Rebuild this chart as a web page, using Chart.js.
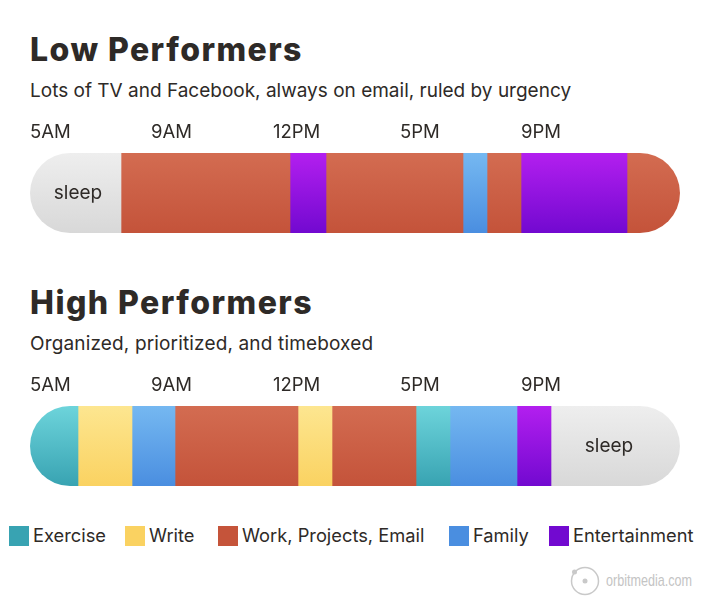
<!DOCTYPE html>
<html>
<head>
<meta charset="utf-8">
<title>Low and High Performers</title>
<script src="https://cdn.jsdelivr.net/npm/chart.js@4/dist/chart.umd.min.js"></script>
<style>
    body { margin: 0; background: #fff; width: 710px; height: 614px; position: relative; overflow: hidden; font-family: Inter, sans-serif; color: #2e2a27; }
    canvas { position: absolute; left: 0; }
    h2 { position: absolute; left: 30px; margin: 0; font-size: 32px; font-weight: 800; letter-spacing: 1.45px; line-height: 36px; white-space: nowrap; }
    p { position: absolute; left: 30px; margin: 0; font-size: 19px; line-height: 24px; white-space: nowrap; }
    #legend span { position: absolute; top: 525px; font-size: 18.3px; line-height: 20px; white-space: nowrap; }
    #legend i { position: absolute; top: 526px; width: 20px; height: 20px; }
    #mark { position: absolute; left: 570px; top: 565px; }
    #markText { position: absolute; left: 606px; top: 571px; font: 17px/20px "Liberation Sans", sans-serif; color: #c4c4c4; transform: scaleX(0.74); transform-origin: left top; white-space: nowrap; }
</style>
</head>
<body>
<h2 style="top:32px">Low Performers</h2>
<p style="top:79px">Lots of TV and Facebook, always on email, ruled by urgency</p>
<canvas id="lowChart" width="710" height="118" style="top:115px"></canvas>

<h2 style="top:285px">High Performers</h2>
<p style="top:332px;letter-spacing:0.15px">Organized, prioritized, and timeboxed</p>
<canvas id="highChart" width="710" height="118" style="top:368px"></canvas>

<div id="legend"></div>
<svg id="mark" width="32" height="32">
    <circle cx="15" cy="16" r="13.5" fill="none" stroke="#c9c9c9" stroke-width="1.5"></circle>
    <circle cx="15" cy="16" r="2.5" fill="#c9c9c9"></circle>
    <circle cx="4.5" cy="7" r="2.5" fill="#c9c9c9"></circle>
</svg>
<div id="markText">orbitmedia.com</div>

<script>
const tickLabels = ['5AM', '9AM', '12PM', '5PM', '9PM'];
const tickValues = [0, 121, 243, 370, 491];

const lowActivities = ['Sleep', 'Work', 'Entertainment', 'Work', 'Family', 'Work', 'Entertainment', 'Work'];
const lowValues = [91, 169, 36, 137, 24, 34, 106, 53];

const highActivities = ['Exercise', 'Write', 'Family', 'Work', 'Write', 'Work', 'Exercise', 'Family', 'Entertainment', 'Sleep'];
const highValues = [48, 54, 43, 123, 34, 84, 34, 67, 34, 129];

const legendLabels = ['Exercise', 'Write', 'Work, Projects, Email', 'Family', 'Entertainment'];
const legendColors = ['#38a3b2', '#fad261', '#c5543a', '#4a8ee0', '#7209d0'];
const legendSwatchX = [9, 125, 218, 449, 549];

const gradients = {
    Sleep: ['#eeeeee', '#d8d8d8'],
    Work: ['#d36c51', '#c4533a'],
    Entertainment: ['#b31fef', '#7209d0'],
    Family: ['#75b8f1', '#4a8ee0'],
    Exercise: ['#6dd4db', '#38a3b2'],
    Write: ['#fde690', '#fad261']
};

// keeps the stacked bars inside one pill, chart.js limits corner radius to half a bar
const pillClip = {
    id: 'pillClip',
    beforeDatasetsDraw: function (chart) {
        const area = chart.chartArea;
        chart.ctx.save();
        chart.ctx.beginPath();
        chart.ctx.roundRect(area.left, area.top, area.width, area.height, 40);
        chart.ctx.clip();
    },
    afterDatasetsDraw: function (chart) {
        chart.ctx.restore();
    }
};

function sleepLabel(shift) {
    return {
        id: 'sleepLabel',
        afterDraw: function (chart) {
            const ctx = chart.ctx;
            chart.data.datasets.forEach(function (dataset, i) {
                if (dataset.label !== 'Sleep') return;
                const center = chart.getDatasetMeta(i).data[0].getCenterPoint();
                ctx.save();
                ctx.font = '19px Inter';
                ctx.fillStyle = '#2e2a27';
                ctx.textAlign = 'center';
                ctx.textBaseline = 'middle';
                ctx.fillText('sleep', center.x + shift, center.y);
                ctx.restore();
            });
        }
    };
}

function fillFor(activity) {
    return function (context) {
        const area = context.chart.chartArea;
        if (!area) return gradients[activity][1];
        const gradient = context.chart.ctx.createLinearGradient(0, area.top, 0, area.bottom);
        gradient.addColorStop(0, gradients[activity][0]);
        gradient.addColorStop(1, gradients[activity][1]);
        return gradient;
    };
}

function drawDay(canvasId, activities, values, labelShift) {
    const datasets = activities.map(function (activity, i) {
        return {
            label: activity,
            data: [values[i]],
            backgroundColor: fillFor(activity),
            borderWidth: 0,
            categoryPercentage: 1,
            barPercentage: 1
        };
    });

    new Chart(document.getElementById(canvasId), {
        type: 'bar',
        data: { labels: ['day'], datasets: datasets },
        plugins: [pillClip, sleepLabel(labelShift)],
        options: {
            indexAxis: 'y',
            responsive: false,
            animation: false,
            layout: { padding: { left: 30, right: 30, top: 0, bottom: 0 } },
            plugins: { legend: { display: false }, tooltip: { enabled: false } },
            scales: {
                x: {
                    type: 'linear',
                    position: 'top',
                    stacked: true,
                    min: 0,
                    max: 650,
                    grid: { display: false, drawTicks: false },
                    border: { display: false },
                    afterBuildTicks: function (scale) {
                        scale.ticks = tickValues.map(function (value) { return { value: value }; });
                    },
                    afterFit: function (scale) {
                        scale.height = 38;
                    },
                    ticks: {
                        autoSkip: false,
                        maxRotation: 0,
                        align: 'start',
                        padding: 9,
                        color: '#2e2a27',
                        font: { family: 'Inter', size: 18.5 },
                        callback: function (value) {
                            return tickLabels[tickValues.indexOf(value)];
                        }
                    }
                },
                y: { stacked: true, display: false }
            }
        }
    });
}

drawDay('lowChart', lowActivities, lowValues, 2.5);
drawDay('highChart', highActivities, highValues, -6.5);

const legend = document.getElementById('legend');
legendLabels.forEach(function (label, i) {
    const swatch = document.createElement('i');
    swatch.style.left = legendSwatchX[i] + 'px';
    swatch.style.background = legendColors[i];
    legend.appendChild(swatch);
    const text = document.createElement('span');
    text.style.left = (legendSwatchX[i] + 24) + 'px';
    text.textContent = label;
    legend.appendChild(text);
});
</script>
</body>
</html>
